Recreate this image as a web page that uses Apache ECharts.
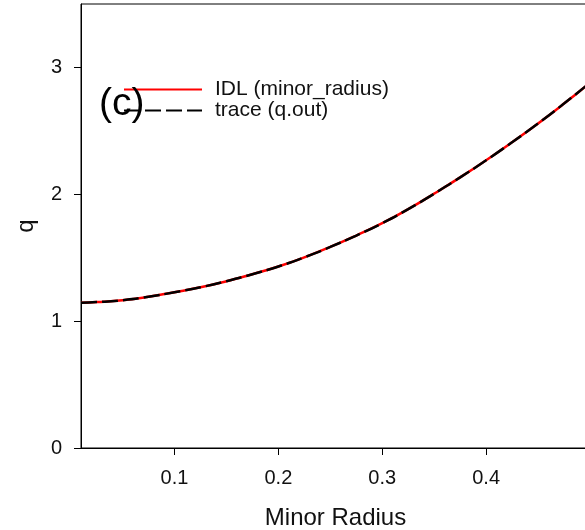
<!DOCTYPE html>
<html>
<head>
<meta charset="utf-8">
<script src="https://cdn.jsdelivr.net/npm/echarts@6/dist/echarts.min.js"></script>
<style>
  html, body { margin: 0; padding: 0; background: #fff; }
  #chart { width: 585px; height: 530px; }
</style>
</head>
<body>
<div id="chart"></div>
<script>
// minor radius samples
var radius = [0.01, 0.025, 0.05, 0.075, 0.1, 0.125, 0.15, 0.175, 0.2, 0.225, 0.25,
              0.275, 0.3, 0.325, 0.35, 0.375, 0.4, 0.425, 0.45, 0.475, 0.5];
// q from IDL (minor_radius)
var qIdl = [1.145, 1.150, 1.165, 1.192, 1.228, 1.267, 1.315, 1.370, 1.431, 1.503, 1.585,
            1.675, 1.772, 1.883, 2.005, 2.133, 2.268, 2.410, 2.558, 2.715, 2.880];
// q from trace (q.out)
var qTrace = [1.145, 1.150, 1.165, 1.192, 1.228, 1.267, 1.315, 1.370, 1.431, 1.503, 1.585,
              1.675, 1.772, 1.883, 2.005, 2.133, 2.268, 2.410, 2.558, 2.715, 2.880];
var xTicks = [0.1, 0.2, 0.3, 0.4];
var yTicks = [0, 1, 2, 3];

function pairs(xs, ys) {
    var out = [];
    for (var i = 0; i < xs.length; i++) {
        out.push([xs[i], ys[i]]);
    }
    return out;
}

var font = 'Liberation Sans, Arial, sans-serif';
var chart = echarts.init(document.getElementById('chart'));

var option = {
    backgroundColor: '#ffffff',
    animation: false,
    grid: {
        left: 81,
        top: 4,
        width: 509,
        height: 444,
        outerBoundsMode: 'none',
        containLabel: false,
        show: true,
        borderColor: '#000',
        borderWidth: 1
    },
    legend: {
        orient: 'vertical',
        left: 118,
        top: 74,
        itemWidth: 78,
        itemHeight: 14,
        itemGap: 0,
        itemStyle: { opacity: 0 },
        textStyle: {
            fontFamily: font,
            fontSize: 21,
            color: '#111',
            padding: [0, 0, 0, 8]
        },
        data: ['IDL (minor_radius)', 'trace (q.out)']
    },
    graphic: [{
        type: 'text',
        left: 99,
        top: 85,
        z: 100,
        style: {
            text: '(c)',
            fontFamily: font,
            fontSize: 39,
            fill: '#000'
        }
    }],
    xAxis: {
        type: 'value',
        min: 0.01,
        max: 0.5,
        name: 'Minor Radius',
        nameLocation: 'middle',
        nameGap: 58,
        nameTextStyle: { fontFamily: font, fontSize: 24, color: '#111' },
        axisLine: { show: true, lineStyle: { color: '#000', width: 1 } },
        axisTick: { show: true, length: 7, customValues: xTicks, lineStyle: { color: '#000' } },
        axisLabel: {
            customValues: xTicks,
            margin: 20,
            fontFamily: font,
            fontSize: 20,
            color: '#111'
        },
        splitLine: { show: false }
    },
    yAxis: {
        type: 'value',
        min: 0,
        max: 3.5,
        name: 'q',
        nameLocation: 'middle',
        nameGap: 43,
        nameTextStyle: { fontFamily: font, fontSize: 24, color: '#111' },
        axisLine: { show: true, lineStyle: { color: '#000', width: 1 } },
        axisTick: { show: true, length: 7, customValues: yTicks, lineStyle: { color: '#000' } },
        axisLabel: {
            customValues: yTicks,
            margin: 19,
            fontFamily: font,
            fontSize: 20,
            color: '#111'
        },
        splitLine: { show: false }
    },
    series: [{
        name: 'IDL (minor_radius)',
        type: 'line',
        smooth: true,
        symbol: 'none',
        color: '#ff0000',
        lineStyle: { color: '#ff0000', width: 2.5 },
        data: pairs(radius, qIdl)
    }, {
        name: 'trace (q.out)',
        type: 'line',
        smooth: true,
        symbol: 'none',
        color: '#000000',
        lineStyle: { color: '#000000', width: 2.5, type: [16, 5] },
        data: pairs(radius, qTrace)
    }]
};
chart.setOption(option);
</script>
</body>
</html>
